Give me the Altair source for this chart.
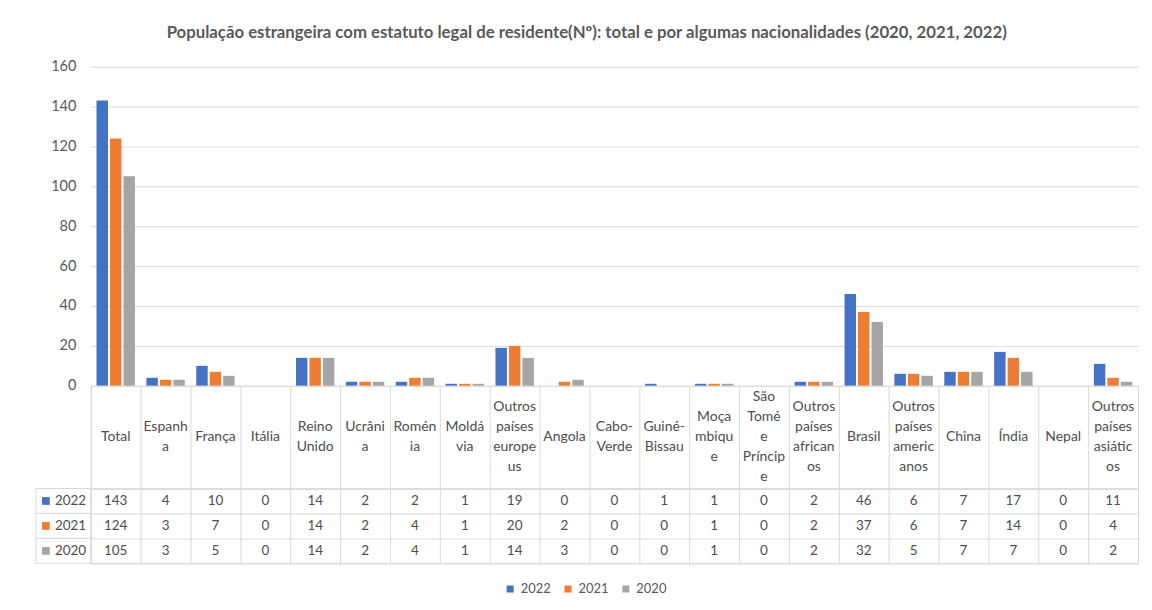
import altair as alt
import pandas as pd

categories = ["Total", "Espanha", "França", "Itália", "Reino Unido", "Ucrânia", "Roménia",
              "Moldávia", "Outros países europeus", "Angola", "Cabo-Verde", "Guiné-Bissau",
              "Moçambique", "São Tomé e Príncipe", "Outros países africanos", "Brasil",
              "Outros países americanos", "China", "Índia", "Nepal", "Outros países asiáticos"]
header_labels = ["Total", "Espanh\na", "França", "Itália", "Reino\nUnido", "Ucrâni\na", "Romén\nia",
                 "Moldá\nvia", "Outros\npaíses\neurope\nus", "Angola", "Cabo-\nVerde", "Guiné-\nBissau",
                 "Moça\nmbiqu\ne", "São\nTomé\ne\nPríncip\ne", "Outros\npaíses\nafrican\nos", "Brasil",
                 "Outros\npaíses\nameric\nanos", "China", "Índia", "Nepal",
                 "Outros\npaíses\nasiátic\nos"]
years = ["2022", "2021", "2020"]
v2022 = [143, 4, 10, 0, 14, 2, 2, 1, 19, 0, 0, 1, 1, 0, 2, 46, 6, 7, 17, 0, 11]
v2021 = [124, 3, 7, 0, 14, 2, 4, 1, 20, 2, 0, 0, 1, 0, 2, 37, 6, 7, 14, 0, 4]
v2020 = [105, 3, 5, 0, 14, 2, 4, 1, 14, 3, 0, 0, 1, 0, 2, 32, 5, 7, 7, 0, 2]
colors = ["#4472C4", "#ED7D31", "#A5A5A5"]

rows = []
for y, vals in zip(years, [v2022, v2021, v2020]):
    for c, v in zip(categories, vals):
        rows.append({"category": c, "year": y, "value": v})
df = pd.DataFrame(rows)
hdf = pd.DataFrame({"category": categories, "label": header_labels})
ydf = pd.DataFrame({"year": years})

FONT = "Lato"
GRID = "#d9d9d9"
TXT = "#4d4d4d"
W = 1050
HEADER_H = 103
LINE_H = 20

xscale = alt.Scale(domain=categories, paddingInner=0, paddingOuter=0)
yearscale = alt.Scale(domain=years, paddingInner=0, paddingOuter=0)
cscale = alt.Scale(domain=years, range=colors)
grid_axis = alt.Axis(grid=True, tickBand="extent", labels=False, ticks=False, domain=False,
                     title=None, gridColor=GRID)

bars = alt.Chart(df).mark_bar().encode(
    x=alt.X("category:N", sort=categories, scale=xscale, axis=None),
    xOffset=alt.XOffset("year:N", sort=years,
                        scale=alt.Scale(domain=years, paddingInner=0.15, paddingOuter=0.425)),
    y=alt.Y("value:Q", scale=alt.Scale(domain=[0, 160]),
            axis=alt.Axis(values=list(range(0, 161, 20)), title=None, domain=False, ticks=False,
                          gridColor=GRID, labelColor="#595959", labelFontSize=14.5,
                          labelPadding=15, labelFont=FONT)),
    color=alt.Color("year:N", sort=years, scale=cscale, legend=None),
).properties(width=W, height=320, view=alt.ViewBackground(stroke=None))

header = alt.Chart(hdf).transform_calculate(
    nlines="length(split(datum.label, '\\n'))",
    ypos=f"{HEADER_H / 2} - (datum.nlines - 1) * {LINE_H / 2}",
).mark_text(
    lineBreak="\n", baseline="middle", align="center", fontSize=14, lineHeight=LINE_H,
    color=TXT, font=FONT
).encode(
    x=alt.X("category:N", sort=categories, scale=xscale, axis=grid_axis),
    y=alt.Y("ypos:Q", scale=None),
    text="label:N",
).properties(width=W, height=HEADER_H, view=alt.ViewBackground(stroke=GRID))

vals_text = alt.Chart(df).mark_text(
    baseline="middle", align="center", fontSize=13.5, color=TXT, font=FONT
).encode(
    x=alt.X("category:N", sort=categories, scale=xscale, axis=grid_axis),
    y=alt.Y("year:N", sort=years, scale=yearscale, axis=grid_axis),
    text="value:Q",
)
label_cells = alt.Chart(ydf).mark_rect(fill="white", stroke=GRID, strokeWidth=1).encode(
    x=alt.value(-55), x2=alt.value(0),
    y=alt.Y("year:N", sort=years, scale=yearscale),
)
label_squares = alt.Chart(ydf).mark_square(size=60, opacity=1).encode(
    x=alt.value(-45),
    y=alt.Y("year:N", sort=years, scale=yearscale),
    color=alt.Color("year:N", sort=years, scale=cscale,
                    legend=alt.Legend(title=None, orient="none", direction="horizontal",
                                      legendX=414, legendY=94, symbolType="square",
                                      symbolSize=50, labelFontSize=13, labelColor="#595959",
                                      labelFont=FONT, columnPadding=10, labelOffset=4)),
)
label_text = alt.Chart(ydf).mark_text(
    align="left", baseline="middle", fontSize=13.5, color=TXT, font=FONT
).encode(
    x=alt.value(-36),
    y=alt.Y("year:N", sort=years, scale=yearscale),
    text="year:N",
)
values = alt.layer(label_cells, vals_text, label_squares, label_text).properties(
    width=W, height=75, view=alt.ViewBackground(stroke=GRID))

chart = alt.vconcat(bars, header, values, spacing=0, bounds="flush").resolve_scale(
    color="independent"
).properties(
    title=alt.Title(
        "População estrangeira com estatuto legal de residente(Nº): total e por algumas nacionalidades  (2020, 2021, 2022)",
        fontSize=16.8, fontWeight="bold", color="#595959", font=FONT, anchor="middle", offset=17),
    padding={"left": 27, "top": 16, "right": 5, "bottom": 5},
).configure(font=FONT)

chart.save("out.html", embed_options={"renderer": "svg", "actions": False})
